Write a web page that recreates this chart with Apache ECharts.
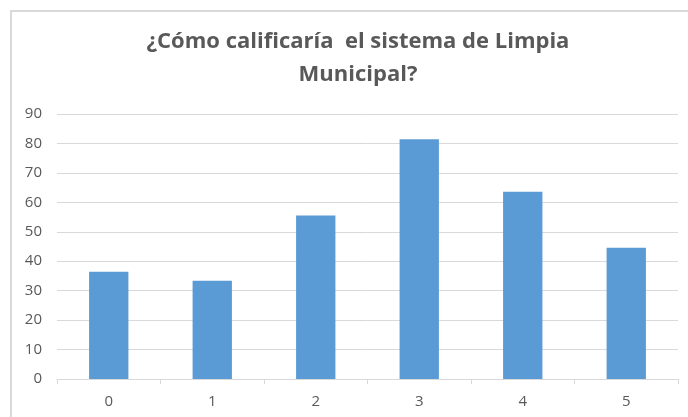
<!DOCTYPE html>
<html>
<head>
<meta charset="utf-8">
<script src="https://cdn.jsdelivr.net/npm/echarts@6/dist/echarts.min.js"></script>
<style>html,body{margin:0;padding:0;background:#fff}#c{width:688px;height:417px}</style>
</head>
<body>
<div id="c"></div>
<script>
const titleText = "¿Cómo calificaría  el sistema de Limpia\nMunicipal?";
const categories = ["0", "1", "2", "3", "4", "5"];
const values = [36.4, 33.4, 55.5, 81.4, 63.6, 44.6];
const yTicks = { min: 0, max: 90, interval: 10 };

const chart = echarts.init(document.getElementById('c'), null, { renderer: 'canvas' });
chart.setOption({
  animation: false,
  backgroundColor: '#ffffff',
  graphic: [{
    type: 'rect',
    shape: { x: 11, y: 11, width: 720, height: 440 },
    style: { fill: 'none', stroke: '#d9d9d9', lineWidth: 2 },
    z: -1
  }],
  title: {
    text: titleText,
    left: 353,
    top: 20,
    textAlign: 'center',
    textStyle: {
      fontFamily: 'Open Sans',
      fontWeight: 'bold',
      fontSize: 22,
      color: '#595959',
      lineHeight: 33
    }
  },
  grid: { left: 57, right: 10, top: 114, bottom: 38, containLabel: false },
  xAxis: {
    type: 'category',
    data: categories,
    axisLine: { lineStyle: { color: '#d9d9d9', width: 1 } },
    axisTick: { show: true, alignWithLabel: false, length: 5, lineStyle: { color: '#d9d9d9' } },
    axisLabel: { color: '#595959', fontSize: 15, fontFamily: 'Open Sans', margin: 15 }
  },
  yAxis: {
    type: 'value',
    min: yTicks.min, max: yTicks.max, interval: yTicks.interval,
    axisLine: { show: false },
    axisTick: { show: false },
    splitLine: { lineStyle: { color: '#d9d9d9', width: 1 } },
    axisLabel: { color: '#595959', fontSize: 15, fontFamily: 'Open Sans', margin: 15 }
  },
  series: [{
    type: 'bar',
    data: values,
    barWidth: '38%',
    itemStyle: { color: '#5b9bd5' }
  }]
});
</script>
</body>
</html>
